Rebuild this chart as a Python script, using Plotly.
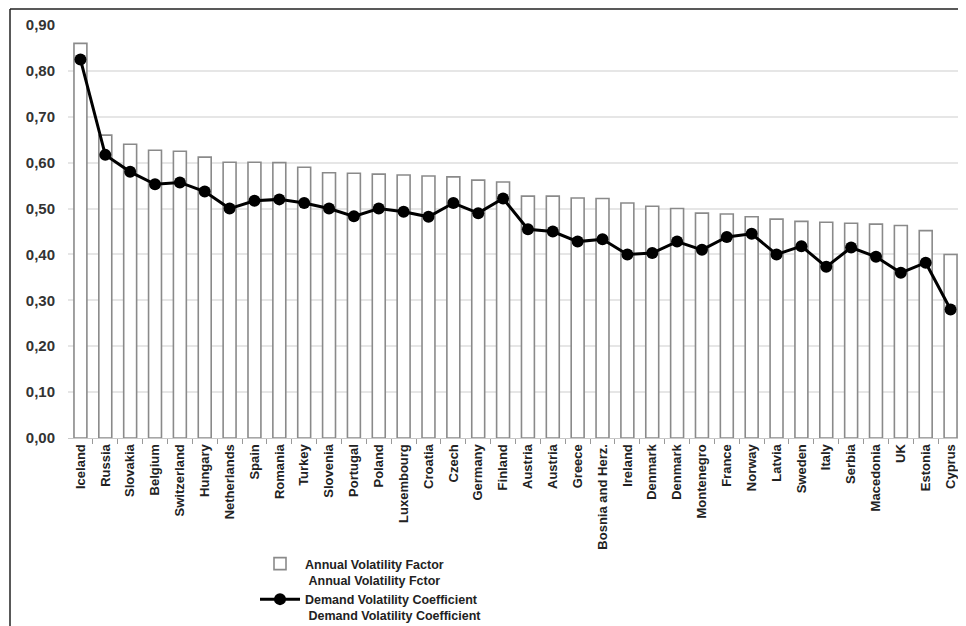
import plotly.graph_objects as go

countries = ["Iceland", "Russia", "Slovakia", "Belgium", "Switzerland", "Hungary", "Netherlands",
             "Spain", "Romania", "Turkey", "Slovenia", "Portugal", "Poland", "Luxembourg", "Croatia",
             "Czech", "Germany", "Finland", "Austria", "Austria", "Greece", "Bosnia and Herz.",
             "Ireland", "Denmark", "Denmark", "Montenegro", "France", "Norway", "Latvia", "Sweden",
             "Italy", "Serbia", "Macedonia", "UK", "Estonia", "Cyprus"]

annual_volatility = [0.86, 0.66, 0.64, 0.627, 0.625, 0.612, 0.601, 0.601, 0.60, 0.59, 0.578,
                     0.577, 0.575, 0.573, 0.571, 0.569, 0.562, 0.558, 0.527, 0.527, 0.523, 0.522,
                     0.512, 0.505, 0.50, 0.49, 0.488, 0.482, 0.477, 0.472, 0.47, 0.468, 0.466,
                     0.463, 0.452, 0.40]

demand_volatility = [0.825, 0.617, 0.58, 0.553, 0.557, 0.537, 0.50, 0.517, 0.52, 0.512, 0.50,
                     0.483, 0.50, 0.493, 0.482, 0.512, 0.49, 0.522, 0.455, 0.45, 0.428, 0.433,
                     0.40, 0.403, 0.428, 0.41, 0.438, 0.445, 0.40, 0.418, 0.373, 0.415, 0.395,
                     0.36, 0.382, 0.28]

y_ticks = [0.0, 0.1, 0.2, 0.3, 0.4, 0.5, 0.6, 0.7, 0.8, 0.9]

idx = list(range(len(countries)))
FONT = "Liberation Sans, Arial, sans-serif"

# The page body has an 8px margin, so the figure is sized to fill the rest of the window.
W, H = 958, 618
L, R, T, B = 60, 3, 17, 188
PW, PH = W - L - R, H - T - B

fig = go.Figure()
fig.add_trace(go.Bar(
    x=idx, y=annual_volatility, width=0.52,
    name="<b>Annual Volatility Factor</b><br><b>&nbsp;Annual Volatility Fctor</b>",
    marker=dict(color="white", line=dict(color="#8a8a8a", width=1.6)),
))
fig.add_trace(go.Scatter(
    x=idx, y=demand_volatility, mode="lines+markers",
    name="<b>Demand Volatility Coefficient</b><br><b>&nbsp;Demand Volatility Coefficient</b>",
    line=dict(color="black", width=3),
    marker=dict(color="black", size=12),
))

fig.update_layout(
    width=W, height=H,
    margin=dict(l=L, r=R, t=T, b=B, autoexpand=False),
    paper_bgcolor="white", plot_bgcolor="white",
    separators=",.",
    showlegend=True,
    font=dict(family=FONT, color="#222"),
    legend=dict(x=(255 - 68) / PW, xref="paper",
                y=1 - (549 - 8) / H, yref="container",
                xanchor="left", yanchor="top",
                font=dict(size=12.5, family=FONT, color="#222"),
                valign="top", tracegroupgap=0, itemwidth=40,
                bgcolor="rgba(0,0,0,0)"),
    shapes=[
        dict(type="line", xref="paper", yref="paper",
             x0=-58 / PW, x1=1 + 3 / PW, y0=1 + 16 / PH, y1=1 + 16 / PH,
             line=dict(color="#222", width=1.5)),
        dict(type="line", xref="paper", yref="paper",
             x0=-58 / PW, x1=-58 / PW, y0=1 + 16 / PH, y1=-B / PH,
             line=dict(color="#222", width=1.5)),
    ],
)
fig.update_xaxes(
    range=[-0.5, len(countries) - 0.5],
    tickmode="array", tickvals=idx, ticktext=["<b>%s</b>" % c for c in countries],
    tickangle=-90, tickfont=dict(size=13, family=FONT, color="#222"),
    showgrid=False, zeroline=False, ticks="",
    showline=True, linecolor="#c8c8c8", linewidth=1,
    minor=dict(tickvals=[i + 0.5 for i in idx[:-1]], ticks="outside", ticklen=5,
               tickcolor="#999", showgrid=False),
)
fig.update_yaxes(
    range=[0, 0.9], tickmode="array", tickvals=y_ticks,
    ticktext=["<b>%s</b>" % ("%.2f" % v).replace(".", ",") for v in y_ticks],
    tickfont=dict(size=15, family=FONT, color="#333"),
    showgrid=True, gridcolor="#e6e6e6", gridwidth=1.5,
    zeroline=False, ticks="", ticklabelstandoff=12, showline=False,
)

fig.write_html("out.html")
